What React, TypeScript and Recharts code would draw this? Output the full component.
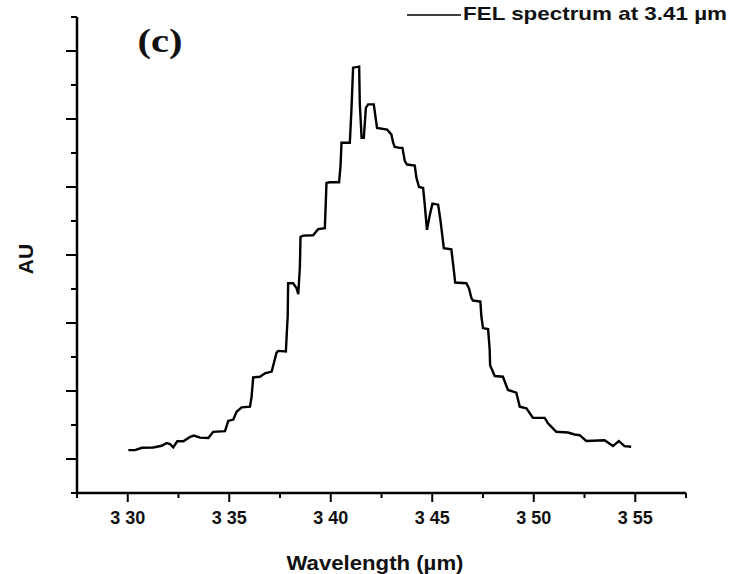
import React from 'react';
import { LineChart, Line, XAxis, YAxis, Legend } from 'recharts';

// wavelength in µm, intensity in arbitrary units (one unit = one y tick step)
const wavelength = [
  3.3003, 3.3036, 3.3069, 3.3126, 3.3167, 3.3192, 3.3208, 3.3224, 3.3244, 3.3274,
  3.3307, 3.3326, 3.3356, 3.3397, 3.3421, 3.3479, 3.3495, 3.352, 3.3536, 3.3561,
  3.3602, 3.361, 3.3618, 3.3651, 3.3676, 3.3709, 3.3733, 3.3741, 3.3779, 3.3785,
  3.3788, 3.379, 3.3815, 3.3832, 3.384, 3.3848, 3.3851, 3.3864, 3.3913, 3.3938,
  3.3971, 3.3979, 3.3996, 3.4041, 3.4048, 3.4053, 3.4094, 3.4102, 3.411, 3.414,
  3.4143, 3.4152, 3.4163, 3.4173, 3.4184, 3.4212, 3.4228, 3.4278, 3.4299, 3.4307,
  3.4315, 3.434, 3.4353, 3.4365, 3.4376, 3.4414, 3.4422, 3.4435, 3.4455, 3.4463,
  3.4474, 3.4488, 3.4501, 3.4529, 3.454, 3.455, 3.4557, 3.4594, 3.4606, 3.4613,
  3.4668, 3.4681, 3.4693, 3.4701, 3.4737, 3.4742, 3.475, 3.4775, 3.4783, 3.4785,
  3.4808, 3.4848, 3.4873, 3.4914, 3.4931, 3.4964, 3.4996, 3.5054, 3.507, 3.5111,
  3.5168, 3.5201, 3.5226, 3.5259, 3.5349, 3.539, 3.5419, 3.5447, 3.548,
];
const intensity = [
  1.26, 1.26, 1.33, 1.34, 1.39, 1.47, 1.44, 1.34, 1.52, 1.52,
  1.65, 1.69, 1.63, 1.62, 1.8, 1.82, 2.12, 2.16, 2.39, 2.52,
  2.54, 2.83, 3.4, 3.42, 3.52, 3.57, 4.13, 4.18, 4.16, 4.89,
  5.19, 6.17, 6.17, 6.02, 5.85, 6.66, 7.53, 7.57, 7.58, 7.76,
  7.79, 9.12, 9.14, 9.14, 9.61, 10.3, 10.3, 11.28, 12.51, 12.54,
  11.48, 10.45, 10.45, 11.33, 11.43, 11.43, 10.74, 10.69, 10.54, 10.31,
  10.18, 10.15, 10.15, 9.76, 9.66, 9.63, 9.27, 9.0, 8.97, 8.48,
  7.74, 8.18, 8.51, 8.48, 8.04, 7.55, 7.2, 7.17, 6.56, 6.19,
  6.17, 6.02, 5.73, 5.66, 5.63, 5.19, 4.85, 4.82, 4.21, 3.76,
  3.44, 3.42, 3.03, 2.95, 2.54, 2.49, 2.21, 2.21, 2.05, 1.8,
  1.78, 1.72, 1.7, 1.53, 1.55, 1.38, 1.53, 1.38, 1.36,
];

const xTicks = [3.275, 3.3, 3.325, 3.35, 3.375, 3.4, 3.425, 3.45, 3.475, 3.5, 3.525, 3.55, 3.575];
const xMajor = [3.3, 3.35, 3.4, 3.45, 3.5, 3.55];
const xTickLabels = ['3 30', '3 35', '3 40', '3 45', '3 50', '3 55'];
const yTicks = [0, 1, 2, 3, 4, 5, 6, 7, 8, 9, 10, 11, 12, 13, 14];
const yMajor = [1, 3, 5, 7, 9, 11, 13];

const data = wavelength.map((w, i) => ({ w, au: intensity[i] }));

const font = "Arial, 'Liberation Sans', Helvetica, sans-serif";

const XTick = (props: any) => {
  const { x, y, payload } = props;
  const idx = xMajor.findIndex((t) => Math.abs(t - payload.value) < 1e-6);
  const major = idx >= 0;
  return (
    <g>
      <line x1={x} y1={y} x2={x} y2={y + (major ? 9 : 5)} stroke="#000" strokeWidth={2} />
      {major && (
        <text x={x} y={y + 31} textAnchor="middle" fontFamily={font} fontWeight="bold" fontSize={18} fill="#111">
          {xTickLabels[idx]}
        </text>
      )}
    </g>
  );
};

const YTick = (props: any) => {
  const { x, y, payload } = props;
  const len = yMajor.includes(payload.value) ? 11 : 6;
  return <line x1={x - len} y1={y} x2={x} y2={y} stroke="#000" strokeWidth={2} />;
};

const LegendBox = () => (
  <svg width={330} height={26}>
    <line x1={7} y1={15} x2={61} y2={15} stroke="#000" strokeWidth={1.3} />
    <text x={63} y={20} fontFamily={font} fontWeight="bold" fontSize={18.5} fill="#111"
      textLength={264} lengthAdjust="spacingAndGlyphs">
      FEL spectrum at 3.41 µm
    </text>
  </svg>
);

export default function App() {
  return (
    <div style={{ position: 'absolute', left: 0, top: 0, width: 732, height: 574, background: '#fff' }}>
      <LineChart width={732} height={574} data={data} margin={{ top: 17, right: 46, bottom: 51, left: 47 }}>
        <XAxis
          dataKey="w"
          type="number"
          domain={[3.275, 3.575]}
          ticks={xTicks}
          interval={0}
          height={30}
          tickSize={0}
          tickMargin={0}
          tick={<XTick />}
          axisLine={{ stroke: '#000', strokeWidth: 2.5 }}
        />
        <YAxis
          type="number"
          domain={[0, 14]}
          ticks={yTicks}
          interval={0}
          width={30}
          tickSize={0}
          tickMargin={0}
          tick={<YTick />}
          axisLine={{ stroke: '#000', strokeWidth: 2.5 }}
        />
        <Legend
          layout="horizontal"
          verticalAlign="middle"
          align="center"
          wrapperStyle={{ left: 400, top: 0, width: 330, height: 26 }}
          content={<LegendBox />}
        />
        <Line
          type="linear"
          dataKey="au"
          stroke="#000"
          strokeWidth={2.4}
          dot={false}
          isAnimationActive={false}
        />
      </LineChart>
      <svg width={732} height={574} style={{ position: 'absolute', left: 0, top: 0, pointerEvents: 'none' }}>
        <text x={160} y={52} textAnchor="middle" fontFamily="'Times New Roman', 'Liberation Serif', serif"
          fontWeight="bold" fontSize={34} fill="#111" textLength={45} lengthAdjust="spacingAndGlyphs">
          (c)
        </text>
        <text x={33} y={259} textAnchor="middle" transform="rotate(-90 33 259)" fontFamily={font}
          fontWeight="bold" fontSize={21} fill="#111">
          AU
        </text>
        <text x={375} y={570} textAnchor="middle" fontFamily={font} fontWeight="bold" fontSize={21}
          fill="#111" textLength={177} lengthAdjust="spacingAndGlyphs">
          Wavelength (µm)
        </text>
      </svg>
    </div>
  );
}
